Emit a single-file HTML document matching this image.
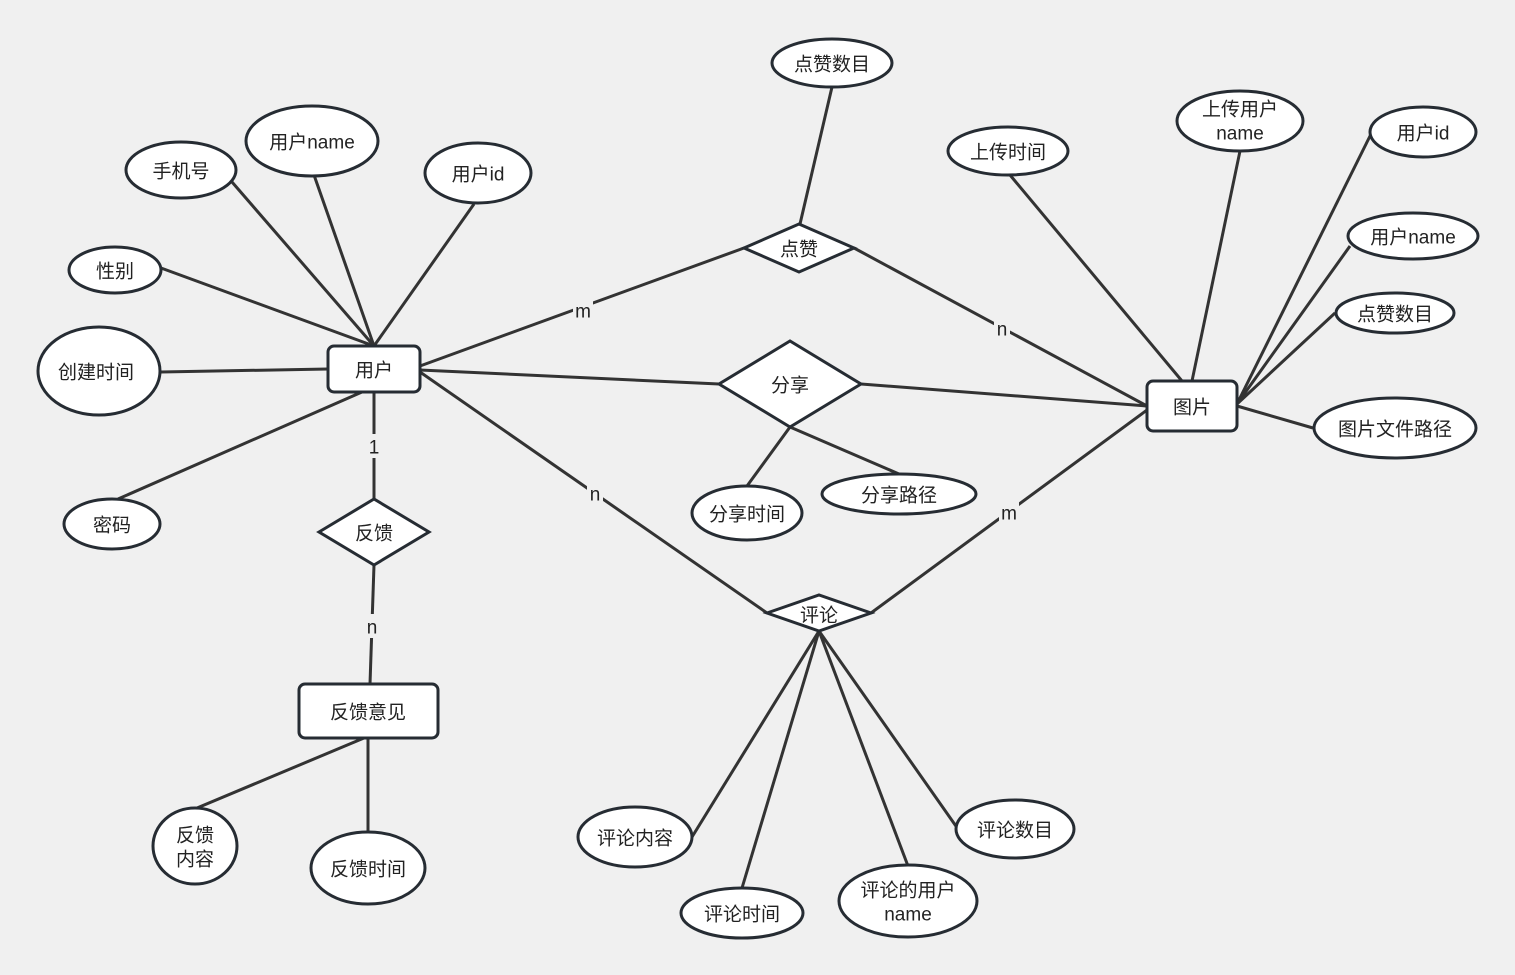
<!DOCTYPE html>
<html><head><meta charset="utf-8"><style>
html,body{margin:0;padding:0;background:#f0f0f0;}
svg{display:block;}
text{font-family:"Liberation Sans","Noto Sans CJK SC",sans-serif;font-size:19px;fill:#222;text-anchor:middle;dominant-baseline:central;}
.l{stroke:#333;stroke-width:3;fill:none;}
.s{stroke:#262c33;stroke-width:3;fill:#fff;}
.lb{fill:#f0f0f0;}
</style></head><body>
<svg width="1515" height="975" viewBox="0 0 1515 975">
<rect width="1515" height="975" fill="#f0f0f0"/>
<g class="l">
<line x1="374" y1="346" x2="232" y2="182"/>
<line x1="374" y1="346" x2="314" y2="175"/>
<line x1="374" y1="346" x2="474" y2="204"/>
<line x1="161" y1="268" x2="374" y2="346"/>
<line x1="161" y1="372" x2="328" y2="369"/>
<line x1="118" y1="499" x2="362" y2="392"/>
<line x1="374" y1="392" x2="374" y2="499"/>
<line x1="374" y1="565" x2="370" y2="684"/>
<line x1="364" y1="738" x2="197" y2="808"/>
<line x1="368" y1="738" x2="368" y2="832"/>
<line x1="420" y1="366" x2="744" y2="248"/>
<line x1="854" y1="248" x2="1147" y2="406"/>
<line x1="800" y1="224" x2="832" y2="87"/>
<line x1="420" y1="370" x2="719" y2="384"/>
<line x1="861" y1="384" x2="1147" y2="406"/>
<line x1="790" y1="427" x2="747" y2="486"/>
<line x1="790" y1="427" x2="899" y2="474"/>
<line x1="420" y1="372" x2="767" y2="613"/>
<line x1="871" y1="613" x2="1147" y2="410"/>
<line x1="819" y1="631" x2="692" y2="837"/>
<line x1="819" y1="631" x2="742" y2="888"/>
<line x1="819" y1="631" x2="908" y2="866"/>
<line x1="819" y1="631" x2="958" y2="829"/>
<line x1="1182" y1="381" x2="1010" y2="175"/>
<line x1="1192" y1="381" x2="1240" y2="151"/>
<line x1="1237" y1="404" x2="1373" y2="130"/>
<line x1="1237" y1="404" x2="1350" y2="246"/>
<line x1="1237" y1="404" x2="1335" y2="313"/>
<line x1="1237" y1="406" x2="1313" y2="428"/>
</g>
<g class="s">
<rect x="328" y="346" width="92" height="46" rx="6"/>
<rect x="1147" y="381" width="90" height="50" rx="6"/>
<rect x="299" y="684" width="139" height="54" rx="6"/>
<polygon points="744,248 799,224 854,248 799,272"/>
<polygon points="719,384 790,341 861,384 790,427"/>
<polygon points="319,532 374,499 429,532 374,565"/>
<polygon points="767,613 819,595 871,613 819,631"/>
<ellipse cx="832" cy="63" rx="60" ry="24"/>
<ellipse cx="181" cy="170" rx="55" ry="28"/>
<ellipse cx="312" cy="141" rx="66" ry="35"/>
<ellipse cx="478" cy="173" rx="53" ry="30"/>
<ellipse cx="115" cy="270" rx="46" ry="23"/>
<ellipse cx="99" cy="371" rx="61" ry="44"/>
<ellipse cx="112" cy="524" rx="48" ry="25"/>
<ellipse cx="1008" cy="151" rx="60" ry="24"/>
<ellipse cx="1240" cy="121" rx="63" ry="30"/>
<ellipse cx="1423" cy="132" rx="53" ry="25"/>
<ellipse cx="1413" cy="236" rx="65" ry="23"/>
<ellipse cx="1395" cy="313" rx="59" ry="20"/>
<ellipse cx="1395" cy="428" rx="81" ry="30"/>
<ellipse cx="747" cy="513" rx="55" ry="27"/>
<ellipse cx="899" cy="494" rx="77" ry="20"/>
<ellipse cx="195" cy="846" rx="42" ry="38"/>
<ellipse cx="368" cy="868" rx="57" ry="36"/>
<ellipse cx="635" cy="837" rx="57" ry="30"/>
<ellipse cx="742" cy="913" rx="61" ry="25"/>
<ellipse cx="908" cy="901" rx="69" ry="36"/>
<ellipse cx="1015" cy="829" rx="59" ry="29"/>
</g>
<g class="lb">
<rect x="366" y="434" width="16" height="24"/>
<rect x="364" y="614" width="16" height="24"/>
<rect x="573" y="298" width="20" height="24"/>
<rect x="994" y="316" width="16" height="24"/>
<rect x="587" y="481" width="16" height="24"/>
<rect x="999" y="500" width="20" height="24"/>
</g>
<g transform="translate(0,2)">
<text x="374" y="369">用户</text>
<text x="1192" y="406">图片</text>
<text x="368" y="711">反馈意见</text>
<text x="799" y="248">点赞</text>
<text x="790" y="384">分享</text>
<text x="374" y="532">反馈</text>
<text x="819" y="614">评论</text>
<text x="832" y="63">点赞数目</text>
<text x="181" y="170">手机号</text>
<text x="312" y="141">用户name</text>
<text x="478" y="173">用户id</text>
<text x="115" y="270">性别</text>
<text x="96" y="371">创建时间</text>
<text x="112" y="524">密码</text>
<text x="1008" y="151">上传时间</text>
<text x="1240" y="108">上传用户</text>
<text x="1240" y="132">name</text>
<text x="1423" y="132">用户id</text>
<text x="1413" y="236">用户name</text>
<text x="1395" y="313">点赞数目</text>
<text x="1395" y="428">图片文件路径</text>
<text x="747" y="513">分享时间</text>
<text x="899" y="494">分享路径</text>
<text x="195" y="834">反馈</text>
<text x="195" y="858">内容</text>
<text x="368" y="868">反馈时间</text>
<text x="635" y="837">评论内容</text>
<text x="742" y="913">评论时间</text>
<text x="908" y="889">评论的用户</text>
<text x="908" y="913">name</text>
<text x="1015" y="829">评论数目</text>
<text x="374" y="446">1</text>
<text x="372" y="626">n</text>
<text x="583" y="310">m</text>
<text x="1002" y="328">n</text>
<text x="595" y="493">n</text>
<text x="1009" y="512">m</text>
</g>
</svg>
</body></html>
